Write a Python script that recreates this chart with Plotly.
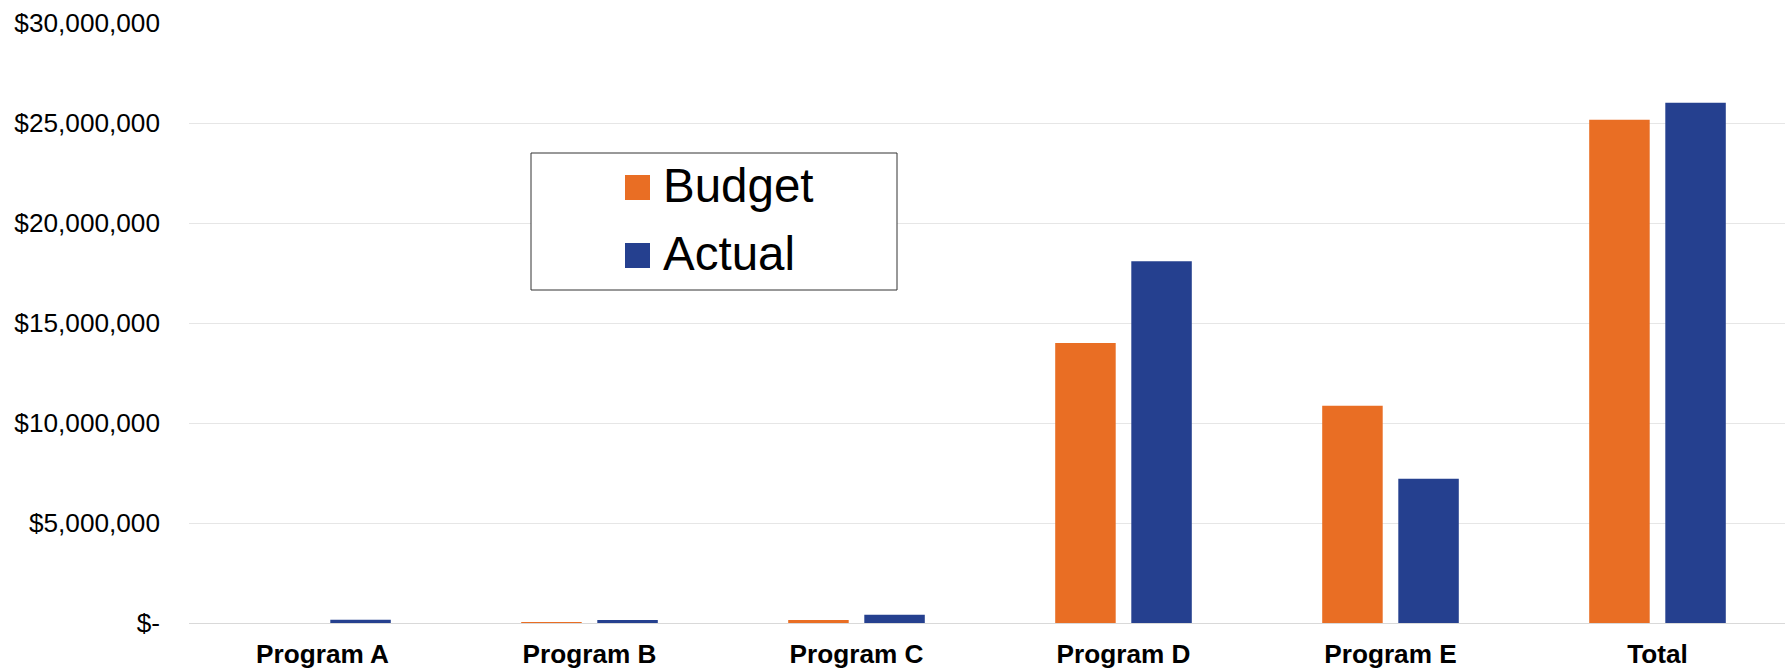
import plotly.graph_objects as go

# Program spending: budget vs. actual (USD)
categories = ["Program A", "Program B", "Program C", "Program D", "Program E", "Total"]
budget = [0, 50_000, 150_000, 14_000_000, 10_860_000, 25_160_000]
actual = [165_000, 150_000, 415_000, 18_090_000, 7_210_000, 26_010_000]

y_tick_vals = [0, 5_000_000, 10_000_000, 15_000_000, 20_000_000, 25_000_000, 30_000_000]
y_tick_text = ["$-", "$5,000,000", "$10,000,000", "$15,000,000",
               "$20,000,000", "$25,000,000", "$30,000,000"]

series_names = ["Budget", "Actual"]
series_colors = ["#E96E24", "#25408F"]

FONT = "Arial, 'Liberation Sans', sans-serif"

fig = go.Figure()
for name, vals, color in zip(series_names, [budget, actual], series_colors):
    fig.add_trace(go.Bar(
        x=categories, y=vals, name=name,
        marker=dict(color=color, line=dict(width=0)),
        showlegend=False,
    ))

# Boxed legend placed inside the plot area
W, H = 1785, 671
L, R, T, B = 189, 0, 23, 48
pw, ph = W - L - R, H - T - B
CAT_W = 267.0  # pixel width of one category slot


def px(x):
    return (x - L) / pw


def py(y):
    return (H - B - y) / ph


shapes = [dict(type="rect", xref="paper", yref="paper",
               x0=px(531), x1=px(897), y0=py(290), y1=py(153),
               line=dict(color="#333333", width=1), fillcolor="white", layer="above")]
annotations = []
for i, (name, color) in enumerate(zip(series_names, series_colors)):
    cy = 187.5 + i * 68
    shapes.append(dict(type="rect", xref="paper", yref="paper",
                       x0=px(625), x1=px(650), y0=py(cy + 12.5), y1=py(cy - 12.5),
                       line=dict(width=0), fillcolor=color, layer="above"))
    annotations.append(dict(xref="paper", yref="paper", x=px(661), y=py(cy - 2),
                            xanchor="left", yanchor="middle", showarrow=False,
                            text=name, font=dict(family=FONT, size=47.5, color="black")))

fig.update_layout(
    width=W, height=H,
    margin=dict(l=L, r=R, t=T, b=B, pad=0),
    paper_bgcolor="white", plot_bgcolor="white",
    barmode="group", bargap=0.43, bargroupgap=0.205,
    font=dict(family=FONT, color="black"),
    shapes=shapes, annotations=annotations,
)
fig.update_xaxes(
    range=[-0.5, -0.5 + pw / CAT_W],
    showgrid=False, showline=False, zeroline=False,
    tickfont=dict(family=FONT, size=26.2, color="black", weight="bold"),
    ticks="", ticklabelstandoff=13,
)
fig.update_yaxes(
    range=[0, 30_000_000], tickvals=y_tick_vals, ticktext=y_tick_text,
    showgrid=True, gridcolor="#E6E6E6", gridwidth=1,
    zeroline=True, zerolinecolor="#D9D9D9", zerolinewidth=1,
    showline=False, ticks="", ticklabelstandoff=28,
    tickfont=dict(family=FONT, size=26.2, color="black"),
)

fig.write_html("out.html")
